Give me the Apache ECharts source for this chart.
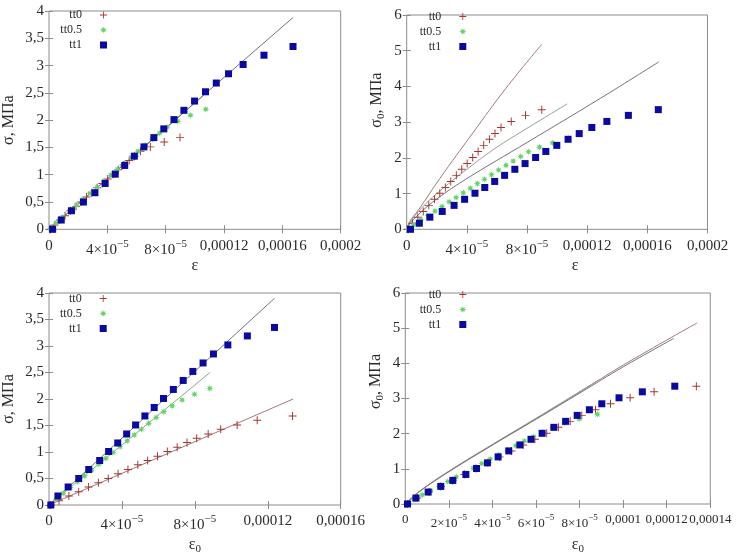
<!DOCTYPE html>
<html>
<head>
<meta charset="utf-8">
<script src="https://cdn.jsdelivr.net/npm/echarts@6/dist/echarts.min.js"></script>
<style>
html, body {margin:0; padding:0; background:#fff;}
#chart {width:747px; height:556px;}
</style>
</head>
<body>
<div id="chart"></div>
<script>
// ---- measured points: strain eps, reduced strain eps0, stress sigma, reduced stress sigma0 ----
var epsTt0    = [1e-6, 3.8e-6, 7.4e-6, 1.1e-5, 1.47e-5, 1.85e-5, 2.2e-5, 2.57e-5, 2.93e-5, 3.3e-5, 3.66e-5, 4.02e-5, 4.39e-5, 4.75e-5, 5.12e-5, 5.5e-5, 5.87e-5, 6.27e-5, 6.95e-5, 7.9e-5, 8.98e-5];
var eps0Tt0   = [1e-6, 5.5e-6, 1.09e-5, 1.63e-5, 2.17e-5, 2.71e-5, 3.25e-5, 3.79e-5, 4.33e-5, 4.87e-5, 5.41e-5, 5.95e-5, 6.49e-5, 7.03e-5, 7.57e-5, 8.1e-5, 8.73e-5, 9.42e-5, 1.032e-4, 1.142e-4, 1.336e-4];
var sigmaTt0  = [0, 0.08, 0.17, 0.25, 0.34, 0.42, 0.5, 0.59, 0.67, 0.76, 0.84, 0.92, 1.01, 1.09, 1.18, 1.26, 1.34, 1.43, 1.51, 1.6, 1.68];
var sigma0Tt0 = [0, 0.17, 0.34, 0.5, 0.67, 0.84, 1.01, 1.17, 1.34, 1.51, 1.68, 1.84, 2.01, 2.18, 2.35, 2.52, 2.68, 2.85, 3.02, 3.19, 3.35];

var epsTt05    = [1e-6, 4.7e-6, 9.4e-6, 1.41e-5, 1.88e-5, 2.35e-5, 2.82e-5, 3.29e-5, 3.76e-5, 4.23e-5, 4.7e-5, 5.17e-5, 5.64e-5, 6.11e-5, 6.6e-5, 7.08e-5, 7.58e-5, 8.1e-5, 8.83e-5, 9.7e-5, 1.075e-4];
var eps0Tt05   = [1e-6, 3.9e-6, 7.8e-6, 1.17e-5, 1.56e-5, 1.95e-5, 2.34e-5, 2.73e-5, 3.12e-5, 3.51e-5, 3.9e-5, 4.29e-5, 4.68e-5, 5.07e-5, 5.47e-5, 5.88e-5, 6.3e-5, 6.76e-5, 7.3e-5, 7.98e-5, 8.82e-5];
var sigmaTt05  = [0, 0.11, 0.22, 0.33, 0.44, 0.55, 0.66, 0.77, 0.88, 0.99, 1.1, 1.21, 1.32, 1.43, 1.54, 1.65, 1.76, 1.87, 1.98, 2.09, 2.2];
var sigma0Tt05 = [0, 0.13, 0.26, 0.38, 0.51, 0.64, 0.77, 0.89, 1.02, 1.15, 1.28, 1.4, 1.53, 1.66, 1.79, 1.91, 2.04, 2.17, 2.3, 2.42, 2.55];

var epsTt1    = [2.5e-6, 8.4e-6, 1.54e-5, 2.36e-5, 3.15e-5, 3.85e-5, 4.54e-5, 5.19e-5, 5.85e-5, 6.51e-5, 7.19e-5, 7.87e-5, 8.57e-5, 9.25e-5, 9.98e-5, 1.073e-4, 1.147e-4, 1.231e-4, 1.331e-4, 1.474e-4, 1.673e-4];
var eps0Tt1   = [1e-6, 4.9e-6, 1.05e-5, 1.63e-5, 2.18e-5, 2.78e-5, 3.27e-5, 3.77e-5, 4.26e-5, 4.75e-5, 5.26e-5, 5.77e-5, 6.28e-5, 6.82e-5, 7.36e-5, 7.89e-5, 8.45e-5, 9.02e-5, 9.81e-5, 1.088e-4, 1.237e-4];
var sigmaTt1  = [0, 0.17, 0.34, 0.5, 0.67, 0.84, 1.01, 1.17, 1.34, 1.51, 1.68, 1.84, 2.01, 2.18, 2.35, 2.52, 2.68, 2.85, 3.02, 3.19, 3.35];
var sigma0Tt1 = [0, 0.17, 0.34, 0.5, 0.67, 0.84, 1.01, 1.17, 1.34, 1.51, 1.68, 1.84, 2.01, 2.18, 2.35, 2.52, 2.68, 2.85, 3.02, 3.19, 3.35];

// ---- fitted curves, [x, y] ----
var fitSigmaEps = {      // panel 1: sigma(eps)
    tt0:  [[0, 0], [8.98e-5, 2.08]],
    tt05: [[0, 0], [1.075e-4, 2.49]],
    tt1:  [[0, 0], [1.673e-4, 3.88]]
};
var fitSigma0Eps = {     // panel 2: sigma0(eps)
    tt0:  [[0, 0], [2e-6, 0.22], [7.8e-6, 0.54], [2.2e-5, 1.42], [4.4e-5, 2.7], [6.6e-5, 3.95], [8.98e-5, 5.18]],
    tt05: [[0, 0], [3e-6, 0.25], [1e-5, 0.6], [2e-5, 1.0], [4e-5, 1.68], [6e-5, 2.3], [7.7e-5, 2.75], [1.067e-4, 3.51]],
    tt1:  [[0, 0], [3e-6, 0.2], [1e-5, 0.5], [2e-5, 0.85], [4e-5, 1.42], [8e-5, 2.43], [1.289e-4, 3.67], [1.677e-4, 4.69]]
};
var fitSigmaEps0 = {     // panel 3: sigma(eps0)
    tt0:  [[0, 0], [1.339e-4, 2.0]],
    tt05: [[0, 0], [8.83e-5, 2.5]],
    tt1:  [[0, 0], [1.237e-4, 3.9]]
};
var fitSigma0Eps0 = {    // panel 4: sigma0(eps0)
    tt0:  [[0, 0], [6.7e-6, 0.37], [2.06e-5, 0.95], [4.04e-5, 1.7], [6.03e-5, 2.44], [8.02e-5, 3.19], [1.0e-4, 3.95], [1.34e-4, 5.15]],
    tt05: [[0, 0], [6.7e-6, 0.37], [2.06e-5, 0.96], [4.04e-5, 1.71], [6.03e-5, 2.45], [8.83e-5, 3.51]],
    tt1:  [[0, 0], [6.7e-6, 0.36], [2.06e-5, 0.94], [4.04e-5, 1.69], [6.03e-5, 2.42], [8.02e-5, 3.16], [1.0e-4, 3.9], [1.233e-4, 4.71]]
};

var seriesNames = ['tt0', 'tt0.5', 'tt1'];

var FONT = '"Liberation Serif", "Times New Roman", serif';
var TXT = '#2a2a2a';
var FRAME = '#8c8c8c';

function zip(xs, ys) {
    return xs.map(function (x, i) { return [x, ys[i]]; });
}

function starPath(n, rOut, rIn) {
    var d = '';
    for (var i = 0; i < n * 2; i++) {
        var r = i % 2 ? rIn : rOut;
        var a = Math.PI * i / n - Math.PI / 2;
        d += (i ? 'L' : 'M') + (5 + r * Math.cos(a)).toFixed(2) + ',' + (5 + r * Math.sin(a)).toFixed(2);
    }
    return 'path://' + d + 'Z';
}

var markers = [
    {symbol: 'path://M4.4,0H5.6V4.4H10V5.6H5.6V10H4.4V5.6H0V4.4H4.4Z', size: 8, color: '#a83434'},
    {symbol: starPath(8, 5, 2.4), size: 7, color: '#66d466'},
    {symbol: 'rect', size: 7, color: '#0a0aa0'}
];
var fitColors = ['#a07a7a', '#93a193', '#72727f'];

var panels = [
    {left: 46.7, top: 11, width: 294, height: 218.3, xMax: 2e-4, xInt: 4e-5, yMax: 4, yInt: 0.5, xFont: 15,
     xs: [epsTt0, epsTt05, epsTt1], ys: [sigmaTt0, sigmaTt05, sigmaTt1], fit: fitSigmaEps,
     yName: '{a|σ, МПа}', xName: '{a|ε}', xGap: 25, yGap: 30, xPad: [0, 0, 0, 0], yPad: [0, 0, 0, 0],
     legLeft: 57, legTop: 9},
    {left: 406.7, top: 15, width: 300.8, height: 214.3, xMax: 2e-4, xInt: 4e-5, yMax: 6, yInt: 1, xFont: 15,
     xs: [epsTt0, epsTt05, epsTt1], ys: [sigma0Tt0, sigma0Tt05, sigma0Tt1], fit: fitSigma0Eps,
     yName: '{a|σ}{b|0}{a|, МПа}', xName: '{a|ε}', xGap: 22, yGap: 20, xPad: [0, 0, 0, 36], yPad: [0, 0, 0, 44],
     legLeft: 416.3, legTop: 10.5},
    {left: 46.7, top: 293, width: 294, height: 217.7, xMax: 1.6e-4, xInt: 4e-5, yMax: 4, yInt: 0.5, xFont: 15,
     xs: [eps0Tt0, eps0Tt05, eps0Tt1], ys: [sigmaTt0, sigmaTt05, sigmaTt1], fit: fitSigmaEps0,
     yName: '{a|σ, МПа}', xName: '{a|ε}{b|0}', xGap: 30, yGap: 30, xPad: [0, 0, 0, 0], yPad: [0, 0, 0, 0],
     legLeft: 56.7, legTop: 292.5},
    {left: 405.3, top: 293, width: 305, height: 214.3, xMax: 1.4e-4, xInt: 2e-5, yMax: 6, yInt: 1, xFont: 13,
     xs: [eps0Tt0, eps0Tt05, eps0Tt1], ys: [sigma0Tt0, sigma0Tt05, sigma0Tt1], fit: fitSigma0Eps0,
     yName: '{a|σ}{b|0}{a|, МПа}', xName: '{a|ε}{b|0}', xGap: 31, yGap: 20, xPad: [0, 0, 0, 40], yPad: [0, 0, 0, 34],
     legLeft: 416.3, legTop: 288.5}
];

function fmtX(v) {
    var n = Math.round(v * 1e5);
    if (n === 0) return '0';
    if (n < 10) return '{n|' + n + '×10}{s|−5}';
    return String(n / 1e5).replace('.', ',');
}
function fmtY(v) {
    return String(v).replace('.', ',');
}

var nameRich = {
    a: {fontFamily: FONT, fontSize: 16, color: TXT, lineHeight: 20, verticalAlign: 'middle'},
    b: {fontFamily: FONT, fontSize: 11, color: TXT, lineHeight: 20, verticalAlign: 'bottom'}
};
function tickRich(size) {
    return {
        n: {fontFamily: FONT, fontSize: size, color: TXT, lineHeight: size + 4, verticalAlign: 'bottom'},
        s: {fontFamily: FONT, fontSize: size - 4, color: TXT, lineHeight: size - 4, verticalAlign: 'top'}
    };
}

var grids = [], xAxes = [], yAxes = [], series = [], legends = [];

panels.forEach(function (p, pi) {
    grids.push({left: p.left, top: p.top, width: p.width, height: p.height,
        show: true, borderColor: FRAME, borderWidth: 1, backgroundColor: 'transparent'});

    var tick = {show: true, inside: true, length: 4, lineStyle: {color: FRAME, width: 1}};
    xAxes.push({
        type: 'value', gridIndex: pi, min: 0, max: p.xMax, interval: p.xInt, position: 'bottom',
        axisLine: {show: false}, axisTick: tick, splitLine: {show: false},
        axisLabel: {interval: 0, margin: 9, showMaxLabel: true, showMinLabel: true, formatter: fmtX,
            fontFamily: FONT, fontSize: p.xFont, color: TXT, rich: tickRich(p.xFont)},
        name: p.xName, nameLocation: 'middle', nameGap: p.xGap,
        nameTextStyle: {rich: nameRich, padding: p.xPad}
    });
    xAxes.push({
        type: 'value', gridIndex: pi, min: 0, max: p.xMax, interval: p.xInt, position: 'top',
        axisLine: {show: false}, axisTick: tick, splitLine: {show: false}, axisLabel: {show: false}
    });
    yAxes.push({
        type: 'value', gridIndex: pi, min: 0, max: p.yMax, interval: p.yInt, position: 'left',
        axisLine: {show: false}, axisTick: tick, splitLine: {show: false},
        axisLabel: {margin: 5, formatter: fmtY, fontFamily: FONT, fontSize: 15, color: TXT},
        name: p.yName, nameLocation: 'middle', nameGap: p.yGap, nameRotate: 90,
        nameTextStyle: {rich: nameRich, padding: p.yPad}
    });
    yAxes.push({
        type: 'value', gridIndex: pi, min: 0, max: p.yMax, interval: p.yInt, position: 'right',
        axisLine: {show: false}, axisTick: tick, splitLine: {show: false}, axisLabel: {show: false}
    });

    var fitKeys = ['tt0', 'tt05', 'tt1'];
    fitKeys.forEach(function (k, si) {
        series.push({
            name: 'fit ' + seriesNames[si] + ' ' + pi, type: 'line', xAxisIndex: pi * 2, yAxisIndex: pi * 2,
            data: p.fit[k], smooth: p.fit[k].length > 2 ? 0.4 : false, showSymbol: false, silent: true,
            lineStyle: {color: fitColors[si], width: 1}, z: 1, animation: false
        });
    });
    seriesNames.forEach(function (name, si) {
        var m = markers[si];
        series.push({
            name: name, type: 'scatter', xAxisIndex: pi * 2, yAxisIndex: pi * 2,
            data: zip(p.xs[si], p.ys[si]), symbol: m.symbol, symbolSize: m.size,
            itemStyle: {color: m.color, opacity: 1}, z: 2 + si, animation: false
        });
    });

    legends.push({
        data: seriesNames, orient: 'vertical', left: p.legLeft, top: p.legTop, align: 'right',
        itemWidth: 7, itemHeight: 7, itemGap: 3, selectedMode: false, padding: 0,
        textStyle: {fontFamily: FONT, fontSize: 12, color: TXT, width: 25, align: 'right',
            lineHeight: 9, padding: [0, 13, 0, 0]}
    });
});

var chart = echarts.init(document.getElementById('chart'));
chart.setOption({
    backgroundColor: '#ffffff',
    animation: false,
    grid: grids,
    xAxis: xAxes,
    yAxis: yAxes,
    legend: legends,
    series: series
});
</script>
</body>
</html>
